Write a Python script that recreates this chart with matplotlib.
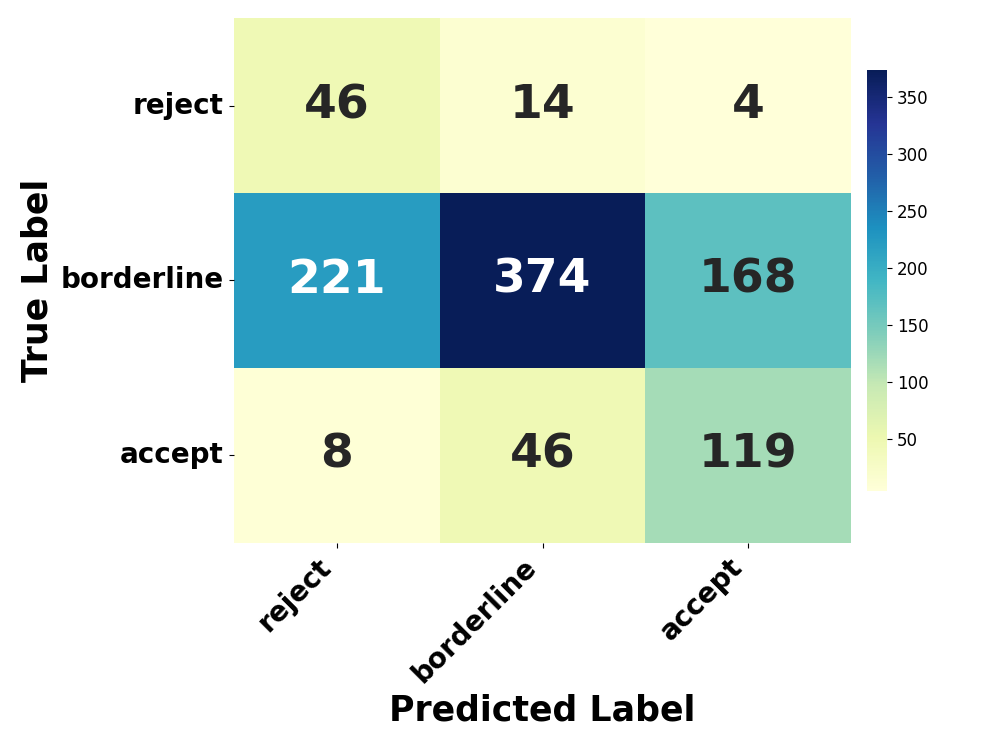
import matplotlib

matplotlib.use("Agg")
import matplotlib.pyplot as plt
import numpy as np
import seaborn as sns

labels = ["reject", "borderline", "accept"]
row_reject = [46, 14, 4]
row_borderline = [221, 374, 168]
row_accept = [8, 46, 119]

cm = np.array([row_reject, row_borderline, row_accept])

fig = plt.figure(figsize=(9.97, 7.47), dpi=100)
ax = fig.add_axes([0.2347, 0.2731, 0.6189, 0.7028])
cax = fig.add_axes([0.8696, 0.3427, 0.0201, 0.5636])

sns.heatmap(
    cm,
    annot=True,
    fmt="d",
    cmap="YlGnBu",
    ax=ax,
    cbar_ax=cax,
    xticklabels=labels,
    yticklabels=labels,
    annot_kws={"fontsize": 34, "fontweight": "bold"},
)

ax.set_xticklabels(labels, rotation=45, ha="right", fontsize=20, fontweight="bold")
ax.set_yticklabels(labels, rotation=0, fontsize=20, fontweight="bold")
ax.tick_params(axis="y", pad=4)
ax.set_xlabel("Predicted Label", fontsize=25, fontweight="bold")
ax.set_ylabel("True Label", fontsize=25, fontweight="bold")
cax.tick_params(labelsize=12)

fig.savefig("out.png", dpi=100)
